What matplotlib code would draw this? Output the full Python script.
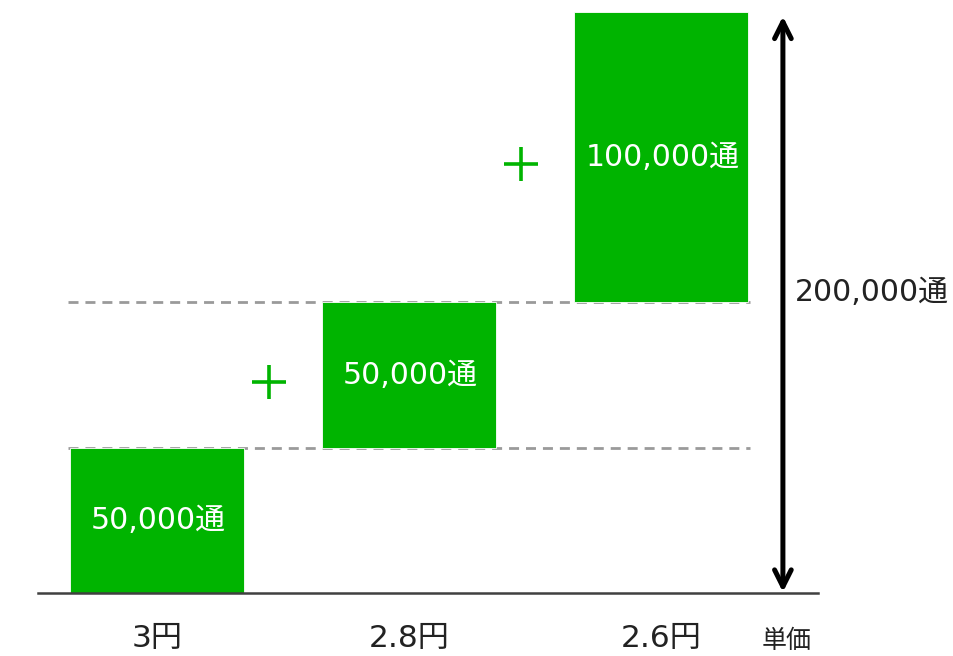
import matplotlib
matplotlib.use("Agg")
import matplotlib.pyplot as plt

prices = ['3円', '2.8円', '2.6円']
volumes = [50000, 50000, 100000]
bar_labels = ['50,000通', '50,000通', '100,000通']
total_label = '200,000通'
unit_label = '単価'

green = '#00b400'
fam = ['DejaVu Sans', 'Noto Sans CJK JP']

bottoms = [sum(volumes[:i]) for i in range(len(volumes))]
total = sum(volumes)
xs = list(range(len(prices)))

fig = plt.figure(figsize=(9.54, 6.56), dpi=100)
ax = fig.add_axes([0, 0, 1, 1])
ax.set_xlim(-0.623, 3.163)
ax.set_ylim(-21690, 204130)
ax.axis('off')

w = 0.69
ax.bar(xs, volumes, bottom=bottoms, width=w, color=green, edgecolor='white', linewidth=0.6, zorder=2)

for x, b, v, lab in zip(xs, bottoms, volumes, bar_labels):
    ax.text(x + 0.005, b + v / 2, lab, color='white', fontsize=21.5, family=fam,
            ha='center', va='center', zorder=3)

# dashed guide lines at cumulative levels
for b in bottoms[1:]:
    ax.plot([xs[0] - w / 2 - 0.01, xs[-1] + w / 2 + 0.01], [b, b], color='#9a9a9a',
            lw=2, dashes=(3.6, 2.5), zorder=1)

# plus signs between the steps
for x, b, v in zip(xs[1:], bottoms[1:], volumes[1:]):
    ax.plot(x - 0.555, b + v / 2 - 2200, marker='+', markersize=24, mew=2.6, color=green, zorder=3)

# baseline
ax.plot([-0.472, 2.623], [0, 0], color='#404040', lw=1.8, zorder=4)

# total arrow
ax.annotate('', xy=(2.484, total - 1500), xytext=(2.484, 300),
            arrowprops=dict(arrowstyle='<->', lw=3.6, color='black',
                            mutation_scale=30, shrinkA=0, shrinkB=0))
ax.text(2.53, total / 2 + 3300, total_label, fontsize=21.5, family=fam,
        color='#222222', ha='left', va='center')

for x, p in zip(xs, prices):
    ax.text(x, -15700, p, fontsize=22.5, family=fam, color='#222222', ha='center', va='center')
ax.text(2.5, -16600, unit_label, fontsize=18, family=fam, color='#222222', ha='center', va='center')

fig.savefig('out.png', dpi=100)
